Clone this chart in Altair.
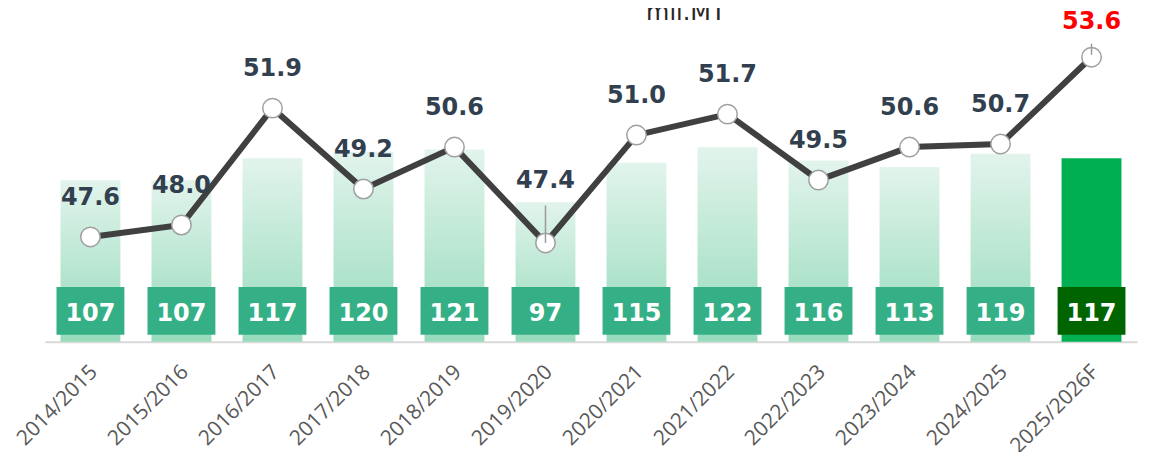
import altair as alt
import pandas as pd

# ---- data ----
seasons = ["2014/2015", "2015/2016", "2016/2017", "2017/2018", "2018/2019", "2019/2020",
           "2020/2021", "2021/2022", "2022/2023", "2023/2024", "2024/2025", "2025/2026F"]
bar_values = [107, 107, 117, 120, 121, 97, 115, 122, 116, 113, 119, 117]
line_values = [47.6, 48.0, 51.9, 49.2, 50.6, 47.4, 51.0, 51.7, 49.5, 50.6, 50.7, 53.6]
forecast = [False] * 11 + [True]
lifted_label = [False, False, False, False, False, True, False, False, False, False, False, False]
unit_title = "mil.MT"

df = pd.DataFrame({
    "season": seasons,
    "bar": bar_values,
    "line": line_values,
    "forecast": forecast,
    "lifted": lifted_label,
})

W, H = 1094, 322
BAR_MIN = 33.4
bar_scale = alt.Scale(domain=[BAR_MIN, 179.8], zero=False, nice=False)
line_scale = alt.Scale(domain=[44.1, 54.83], zero=False, nice=False)

x_enc = alt.X("season:N", sort=seasons, title=None,
              scale=alt.Scale(paddingInner=0, paddingOuter=0),
              axis=alt.Axis(labelAngle=-45, labelFont="Open Sans", labelFontSize=21,
                            labelColor="#595959", labelPadding=19, labelOffset=-4,
                            ticks=False, domainColor="#D9D9D9", domainWidth=2, grid=False,
                            labelOverlap=False))

base = alt.Chart(df).encode(x=x_enc)

gradient = alt.Gradient(
    gradient="linear",
    stops=[alt.GradientStop(color="#E2F4EC", offset=0),
           alt.GradientStop(color="#96DBBB", offset=1)],
    x1=1, x2=1, y1=0, y2=1,
)

bars_hist = base.transform_filter("!datum.forecast").mark_bar(width=60, color=gradient).encode(
    y=alt.Y("bar:Q", scale=bar_scale, axis=None), y2=alt.datum(BAR_MIN))
bars_fc = base.transform_filter("datum.forecast").mark_bar(width=60, color="#00B050").encode(
    y=alt.Y("bar:Q", scale=bar_scale, axis=None), y2=alt.datum(BAR_MIN))

boxes = base.mark_bar(width=68).encode(
    y=alt.value(H - 55), y2=alt.value(H - 7),
    color=alt.condition("datum.forecast", alt.value("#006400"), alt.value("#35B086")),
)
box_text = base.mark_text(font="DejaVu Sans", fontWeight="bold", fontSize=24,
                          color="white", baseline="alphabetic").encode(
    y=alt.value(H - 21), text=alt.Text("bar:Q"))

bar_layer = alt.layer(bars_hist, bars_fc, boxes, box_text)

line = base.mark_line(color="#404040", strokeWidth=6).encode(
    y=alt.Y("line:Q", scale=line_scale, axis=None))
leaders = base.transform_filter("datum.lifted").transform_calculate(
    top="datum.line + 1.25").mark_rule(color="#9A9A9A", strokeWidth=1.5).encode(
    y=alt.Y("line:Q", scale=line_scale, axis=None), y2="top:Q")
points = base.mark_circle(size=380, color="white", opacity=1, stroke="#A0A0A0",
                          strokeWidth=1.5).encode(
    y=alt.Y("line:Q", scale=line_scale, axis=None))
fc_tick = base.transform_filter("datum.forecast").transform_calculate(
    lo="datum.line + 0.08", hi="datum.line + 0.45").mark_rule(
    color="#9A9A9A", strokeWidth=1.5).encode(
    y=alt.Y("lo:Q", scale=line_scale, axis=None), y2="hi:Q")

label_common = dict(font="DejaVu Sans", fontWeight="bold", fontSize=24, baseline="middle")
labels = base.transform_filter("!datum.lifted && !datum.forecast").mark_text(
    dy=-39, color="#323F4F", **label_common).encode(
    y=alt.Y("line:Q", scale=line_scale, axis=None),
    text=alt.Text("line:Q", format=".1f"))
labels_fc = base.transform_filter("datum.forecast").mark_text(
    dy=-35, color="#FF0000", **label_common).encode(
    y=alt.Y("line:Q", scale=line_scale, axis=None),
    text=alt.Text("line:Q", format=".1f"))
labels_lifted = base.transform_filter("datum.lifted").mark_text(
    dy=-62, color="#323F4F", **label_common).encode(
    y=alt.Y("line:Q", scale=line_scale, axis=None),
    text=alt.Text("line:Q", format=".1f"))

line_layer = alt.layer(line, points, leaders, fc_tick, labels, labels_fc, labels_lifted)

title = alt.Chart(pd.DataFrame({"t": [unit_title]})).mark_text(
    font="DejaVu Sans", fontSize=24, color="#262626", baseline="alphabetic", align="center"
).encode(x=alt.value(642), y=alt.value(0), text="t:N")

chart = alt.layer(bar_layer, line_layer, title).resolve_scale(y="independent").properties(
    width=W, height=H,
    autosize=alt.AutoSizeParams(type="none"),
    padding={"left": 37, "top": 12, "right": 15, "bottom": 110},
).configure_view(stroke=None)

chart.save("out.html", embed_options={"renderer": "svg", "actions": False})
